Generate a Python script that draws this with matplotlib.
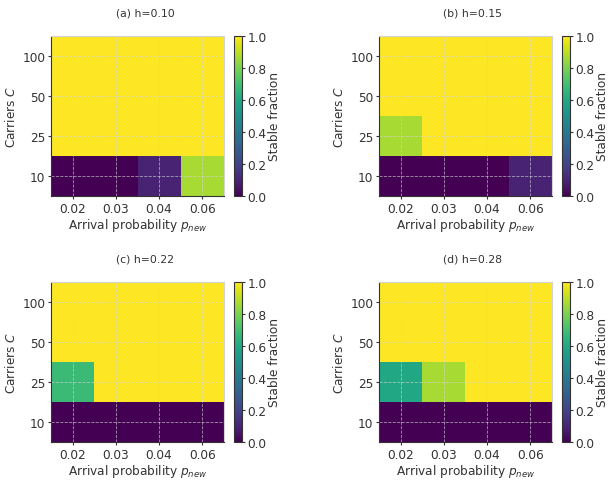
import numpy as np
import matplotlib
matplotlib.use("Agg")
import matplotlib.pyplot as plt

# categories
p_new = ["0.02", "0.03", "0.04", "0.06"]
carriers = ["10", "25", "50", "100"]

# stable fraction per h, rows = carriers (10, 25, 50, 100), cols = p_new
titles = ["(a) h=0.10", "(b) h=0.15", "(c) h=0.22", "(d) h=0.28"]
stable_a = [[0.00, 0.00, 0.10, 0.87],
            [1.00, 1.00, 1.00, 1.00],
            [1.00, 1.00, 1.00, 1.00],
            [1.00, 1.00, 1.00, 1.00]]
stable_b = [[0.00, 0.00, 0.00, 0.10],
            [0.87, 1.00, 1.00, 1.00],
            [1.00, 1.00, 1.00, 1.00],
            [1.00, 1.00, 1.00, 1.00]]
stable_c = [[0.00, 0.00, 0.00, 0.00],
            [0.68, 1.00, 1.00, 1.00],
            [1.00, 1.00, 1.00, 1.00],
            [1.00, 1.00, 1.00, 1.00]]
stable_d = [[0.00, 0.00, 0.00, 0.00],
            [0.60, 0.87, 1.00, 1.00],
            [1.00, 1.00, 1.00, 1.00],
            [1.00, 1.00, 1.00, 1.00]]
panels = [stable_a, stable_b, stable_c, stable_d]

txt = "#333333"
plt.rcParams["text.color"] = txt
plt.rcParams["axes.labelcolor"] = txt
plt.rcParams["xtick.color"] = txt
plt.rcParams["ytick.color"] = txt

fs = 8.7
fig = plt.figure(figsize=(6.1, 4.81), dpi=100)
W, H = 610.0, 481.0
# axes boxes in pixels: left, top
boxes = [(51, 37), (379, 37), (51, 283), (379, 283)]
aw, ah = 173, 160

for (lx, ty), data, title in zip(boxes, panels, titles):
    ax = fig.add_axes([lx / W, 1 - (ty + ah) / H, aw / W, ah / H])
    im = ax.imshow(np.array(data), origin="lower", aspect="auto",
                   cmap="viridis", vmin=0, vmax=1)
    ax.set_xticks(range(len(p_new)))
    ax.set_xticklabels(p_new)
    ax.set_yticks(range(len(carriers)))
    ax.set_yticklabels(carriers)
    ax.tick_params(labelsize=fs, length=2, width=0.8, pad=2)
    ax.grid(True, linestyle="--", color="lightgray", alpha=0.7, linewidth=0.6)
    ax.set_xlabel("Arrival probability $p_{new}$", fontsize=fs, labelpad=1)
    ax.set_ylabel("Carriers $C$", fontsize=fs, labelpad=3)
    ax.set_title(title, fontsize=7.8, pad=15, x=0.543)
    for s in ["left", "bottom"]:
        ax.spines[s].set_color("#333333")
    for s in ["top", "right"]:
        ax.spines[s].set_color("lightgray")

    cax = fig.add_axes([(lx + aw + 10) / W, 1 - (ty + ah) / H, 8 / W, ah / H])
    cb = fig.colorbar(im, cax=cax)
    cb.set_ticks([0.0, 0.2, 0.4, 0.6, 0.8, 1.0])
    cb.ax.tick_params(labelsize=fs, length=2, width=0.8, pad=2)
    cb.set_label("Stable fraction", fontsize=fs, labelpad=1)
    cb.outline.set_edgecolor("#333333")

fig.savefig("out.png", dpi=100)
